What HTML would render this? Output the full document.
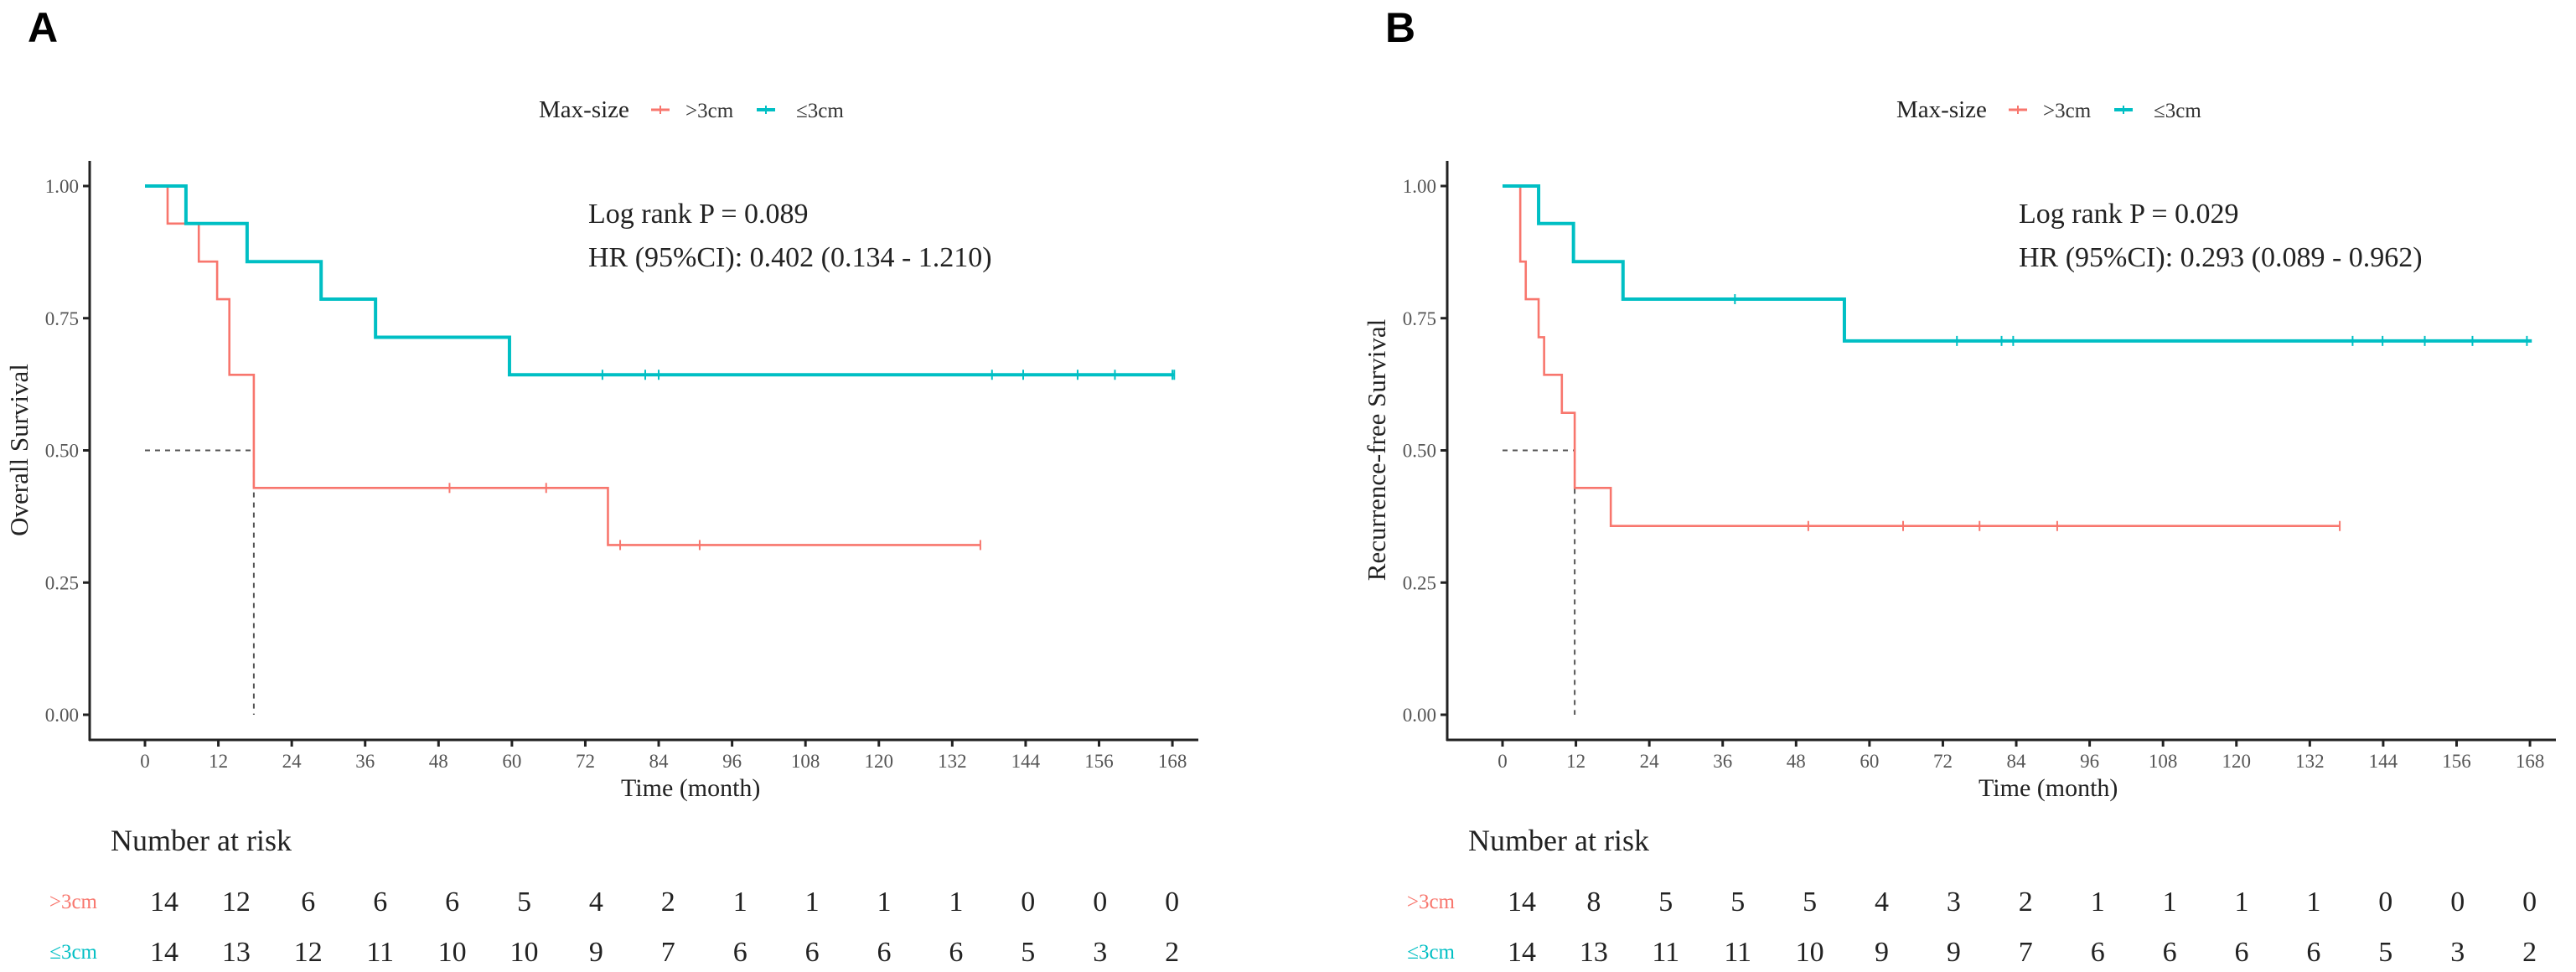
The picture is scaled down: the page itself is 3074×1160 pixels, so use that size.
<!DOCTYPE html>
<html><head><meta charset="utf-8">
<style>
html,body{margin:0;padding:0;background:#fff;}
svg{display:block;font-family:"Liberation Serif",serif;}
</style></head>
<body>
<svg id="fig" width="3074" height="1160" viewBox="0 0 3074 1160" xmlns="http://www.w3.org/2000/svg"></svg>
<script>
// ---- data ----
const xTicks = [0,12,24,36,48,60,72,84,96,108,120,132,144,156,168];
const yTicks = [0,0.25,0.5,0.75,1];
const yTickLabels = ["0.00","0.25","0.50","0.75","1.00"];

const aRedTimes = [0,3.7,8.8,11.8,13.8,17.8,75.7];
const aRedSurv  = [1,0.929,0.857,0.786,0.643,0.429,0.321];
const aRedEnd = 136.6;
const aRedCensor = [49.8,65.6,77.7,90.7,136.6];
const aCyanTimes = [0,6.7,16.7,28.8,37.7,59.6];
const aCyanSurv  = [1,0.929,0.857,0.786,0.714,0.643];
const aCyanEnd = 168.3;
const aCyanCensor = [74.8,81.8,84,138.5,143.6,152.5,158.6,168,168.3];
const aMedian = 17.8;
const aRiskRed  = [14,12,6,6,6,5,4,2,1,1,1,1,0,0,0];
const aRiskCyan = [14,13,12,11,10,10,9,7,6,6,6,6,5,3,2];

const bRedTimes = [0,2.9,3.8,5.9,6.8,9.7,11.8,17.7];
const bRedSurv  = [1,0.857,0.786,0.714,0.643,0.571,0.429,0.357];
const bRedEnd = 136.9;
const bRedCensor = [50,65.5,78,90.7,136.9];
const bCyanTimes = [0,5.9,11.6,19.7,55.9];
const bCyanSurv  = [1,0.929,0.857,0.786,0.707];
const bCyanEnd = 168.3;
const bCyanCensor = [38,74.3,81.6,83.5,139,143.9,150.8,158.6,167.5];
const bMedian = 11.8;
const bRiskRed  = [14,8,5,5,5,4,3,2,1,1,1,1,0,0,0];
const bRiskCyan = [14,13,11,11,10,9,9,7,6,6,6,6,5,3,2];

const RED="#F8766D", CYAN="#00BFC4";
const svg=document.getElementById('fig');
const NS="http://www.w3.org/2000/svg";
function mk(tag,attrs,parent,text){const e=document.createElementNS(NS,tag);for(const k in attrs)e.setAttribute(k,attrs[k]);if(text!==undefined)e.textContent=text;(parent||svg).appendChild(e);return e;}

function panel(off, letter, ytitle, logText, hrText, logOff, rT,rS,rEnd,rC, cT,cS,cEnd,cC, med, riskR, riskC){
  const g=mk('g',{transform:'translate('+off+',0)'});
  
  
  const x=t=>173+t*7.298;
  const y=s=>853-s*631;
  const L=mk('text',{x:33,y:50,'font-family':'Liberation Sans, sans-serif','font-weight':'bold','font-size':50},g,letter);
  
  // legend
  const lg=mk('g',{},g);
  
  mk('text',{x:643,y:140,'font-size':29,fill:'#222'},lg,'Max-size');
  mk('line',{x1:777,y1:131,x2:799,y2:131,stroke:RED,'stroke-width':3},lg);
  mk('line',{x1:788,y1:126,x2:788,y2:136,stroke:RED,'stroke-width':2},lg);
  const t1=mk('text',{x:818,y:140,'font-size':25,fill:'#333'},lg,'>3cm');
  
  mk('line',{x1:903,y1:131,x2:925,y2:131,stroke:CYAN,'stroke-width':4},lg);
  mk('line',{x1:914,y1:126,x2:914,y2:136,stroke:CYAN,'stroke-width':2},lg);
  const t2=mk('text',{x:950,y:140,'font-size':25,fill:'#333'},lg,'≤3cm');
  
  // stats
  const st=mk('text',{x:702+logOff,y:266,'font-size':34,fill:'#222'},g,logText);
  
  const hr=mk('text',{x:702+logOff,y:318,'font-size':34,fill:'#222'},g,hrText);
  
  // axes
  const ax=mk('g',{},g);
  
  mk('line',{x1:107,y1:192,x2:107,y2:884,stroke:'#222','stroke-width':3},ax);
  yTicks.forEach((v,i)=>{
    mk('line',{x1:99,y1:y(v),x2:107,y2:y(v),stroke:'#222','stroke-width':3},ax);
    mk('text',{x:94,y:y(v)+8,'font-size':23,fill:'#555','text-anchor':'end'},ax,yTickLabels[i]);
  });
  const yt=mk('text',{x:0,y:0,'font-size':31,fill:'#222','text-anchor':'middle',transform:'translate(33,537) rotate(-90)'},g,ytitle);
  
  const xa=mk('g',{},g);
  
  mk('line',{x1:106,y1:883,x2:1430,y2:883,stroke:'#222','stroke-width':3},xa);
  xTicks.forEach(v=>{
    mk('line',{x1:x(v),y1:883,x2:x(v),y2:891,stroke:'#222','stroke-width':3},xa);
    mk('text',{x:x(v),y:916,'font-size':23,fill:'#555','text-anchor':'middle'},xa,String(v));
  });
  const xt=mk('text',{x:741,y:950,'font-size':30,fill:'#222'},g,'Time (month)');
  
  // median lines
  const md=mk('path',{d:'M'+x(0)+' '+y(0.5)+' H'+x(med)+' V'+y(0),fill:'none',stroke:'#555','stroke-width':2,'stroke-dasharray':'6,6'},g);
  
  // curves
  function curve(T,S,end,C,col,w,name){
    let d='M'+x(T[0])+' '+y(S[0]);
    for(let i=1;i<T.length;i++){d+=' H'+x(T[i])+' V'+y(S[i]);}
    d+=' H'+x(end);
    const p=mk('path',{d:d,fill:'none',stroke:col,'stroke-width':w},g);
    
    C.forEach(t=>{
      let s=S[0];for(let i=0;i<T.length;i++){if(T[i]<=t)s=S[i];}
      const c=mk('line',{x1:x(t),y1:y(s)-6,x2:x(t),y2:y(s)+6,stroke:col,'stroke-width':2},g);
      
    });
  }
  curve(rT,rS,rEnd,rC,RED,2.6,'curve-gt-3cm');
  curve(cT,cS,cEnd,cC,CYAN,4,'curve-le-3cm');
  // risk table
  const rt=mk('g',{},g);
  
  mk('text',{x:132,y:1015,'font-size':36,fill:'#222'},rt,'Number at risk');
  mk('text',{x:116,y:1084,'font-size':25,fill:RED,'text-anchor':'end'},rt,'>3cm');
  mk('text',{x:116,y:1144,'font-size':25,fill:CYAN,'text-anchor':'end'},rt,'≤3cm');
  riskR.forEach((v,i)=>mk('text',{x:196+i*85.9,y:1087,'font-size':34,fill:'#222','text-anchor':'middle'},rt,String(v)));
  riskC.forEach((v,i)=>mk('text',{x:196+i*85.9,y:1147,'font-size':34,fill:'#222','text-anchor':'middle'},rt,String(v)));
}
panel(0,'A','Overall Survival','Log rank P = 0.089','HR (95%CI): 0.402 (0.134 - 1.210)',0,
  aRedTimes,aRedSurv,aRedEnd,aRedCensor,aCyanTimes,aCyanSurv,aCyanEnd,aCyanCensor,aMedian,aRiskRed,aRiskCyan);
panel(1620,'B','Recurrence-free Survival','Log rank P = 0.029','HR (95%CI): 0.293 (0.089 - 0.962)',87,
  bRedTimes,bRedSurv,bRedEnd,bRedCensor,bCyanTimes,bCyanSurv,bCyanEnd,bCyanCensor,bMedian,bRiskRed,bRiskCyan);
</script>
</body></html>
